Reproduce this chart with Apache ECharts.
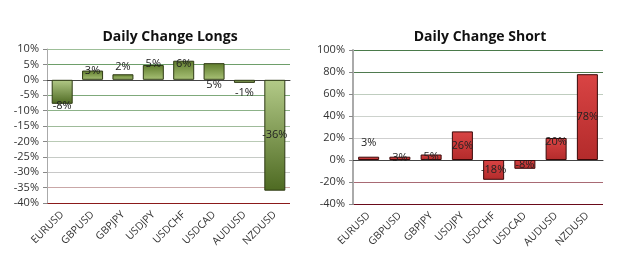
<!DOCTYPE html>
<html>
<head>
<meta charset="utf-8">
<script src="https://cdn.jsdelivr.net/npm/echarts@6/dist/echarts.min.js"></script>
<style>
  html, body { margin: 0; padding: 0; background: #fff; }
  #chart { width: 625px; height: 277px; }
</style>
</head>
<body>
<div id="chart"></div>
<script>
const pairs = ['EURUSD', 'GBPUSD', 'GBPJPY', 'USDJPY', 'USDCHF', 'USDCAD', 'AUDUSD', 'NZDUSD']
const longs = [-7.8, 3, 1.8, 4.8, 6.2, 5.4, -1, -36]
const shorts = [3, 3, 5, 26, -18, -8, 20, 78]
const longPos = ['bottom', 'top', 'top', 'top', 'insideTop', 'bottom', 'bottom', 'inside']
const longDist = [-3, -6, 2, -4, -2, 0, 4, 0]
const shortPos = ['top', 'inside', 'inside', 'inside', 'inside', 'inside', 'insideTop', 'inside']
const shortDist = [8, 0, 0, 0, 0, 0, -2, 0]

const font = 'Open Sans'

const greenUp = new echarts.graphic.LinearGradient(0, 0, 0, 1, [
  { offset: 0, color: '#5f7c2c' }, { offset: 1, color: '#a9c277' }
])
const greenDown = new echarts.graphic.LinearGradient(0, 0, 0, 1, [
  { offset: 0, color: '#b3ca88' }, { offset: 1, color: '#4e6a22' }
])
const red = new echarts.graphic.LinearGradient(0, 0, 0, 1, [
  { offset: 0, color: '#d94444' }, { offset: 1, color: '#b32b2b' }
])

function barData (values, pos, dist, isLong) {
  return values.map((v, i) => ({
    value: v,
    itemStyle: { color: isLong ? (v >= 0 ? greenUp : greenDown) : red },
    label: { position: pos[i], distance: dist[i] }
  }))
}

const yLabel = { color: '#333', fontSize: 11, fontFamily: font, formatter: '{value}%' }
const xLabel = { color: '#333', fontSize: 10.5, fontFamily: font, rotate: 45, margin: 10, interval: 0 }
const barLabel = {
  show: true, color: '#222', fontSize: 11, fontFamily: font,
  formatter: (p) => Math.round(p.value) + '%'
}

const chart = echarts.init(document.getElementById('chart'))
chart.setOption({
  animation: false,
  backgroundColor: '#fff',
  title: [
    { text: 'Daily Change Longs', left: 165, top: 25, textAlign: 'center',
      textStyle: { fontSize: 14, fontWeight: 'bold', color: '#111', fontFamily: font } },
    { text: 'Daily Change Short', left: 475, top: 25, textAlign: 'center',
      textStyle: { fontSize: 14, fontWeight: 'bold', color: '#111', fontFamily: font } }
  ],
  grid: [
    { left: 47, right: 335, top: 49, bottom: 74 },
    { left: 353, right: 22, top: 50, bottom: 73 }
  ],
  xAxis: [
    { type: 'category', gridIndex: 0, data: pairs, axisTick: { show: false },
      axisLine: { lineStyle: { color: '#444' } }, axisLabel: xLabel },
    { type: 'category', gridIndex: 1, data: pairs, axisTick: { show: false },
      axisLine: { lineStyle: { color: '#444' } }, axisLabel: xLabel }
  ],
  yAxis: [
    { type: 'value', gridIndex: 0, min: -40, max: 10, interval: 5,
      axisLine: { show: true, lineStyle: { color: '#aaa' } },
      axisTick: { show: true, length: 4, lineStyle: { color: '#888' } },
      axisLabel: yLabel,
      splitLine: { lineStyle: { width: 1, color: [
        '#8b1a1a', '#c9a7a7', '#c8c8c8', '#c6cbc6', '#b9cab5', '#9fbb9a',
        '#8cb288', '#7fa97b', '#556655', '#6e9e6a', '#9dbf98'
      ] } } },
    { type: 'value', gridIndex: 1, min: -40, max: 100, interval: 20,
      axisLine: { show: true, lineStyle: { color: '#aaa', width: 2 } },
      axisTick: { show: true, length: 4, lineStyle: { color: '#888' } },
      axisLabel: yLabel,
      splitLine: { lineStyle: { width: 1, color: [
        '#6a0a1a', '#a86a74', '#666666', '#cfcfcf', '#cdd2cd', '#bfcdbf',
        '#4f7a4f', '#4a7a4a'
      ] } } }
  ],
  series: [
    { type: 'bar', xAxisIndex: 0, yAxisIndex: 0, barWidth: 21,
      data: barData(longs, longPos, longDist, true),
      itemStyle: { borderColor: '#2e3a14', borderWidth: 1 },
      label: barLabel },
    { type: 'bar', xAxisIndex: 1, yAxisIndex: 1, barWidth: 21,
      data: barData(shorts, shortPos, shortDist, false),
      itemStyle: { borderColor: '#3a0808', borderWidth: 1 },
      label: barLabel }
  ]
})
</script>
</body>
</html>
